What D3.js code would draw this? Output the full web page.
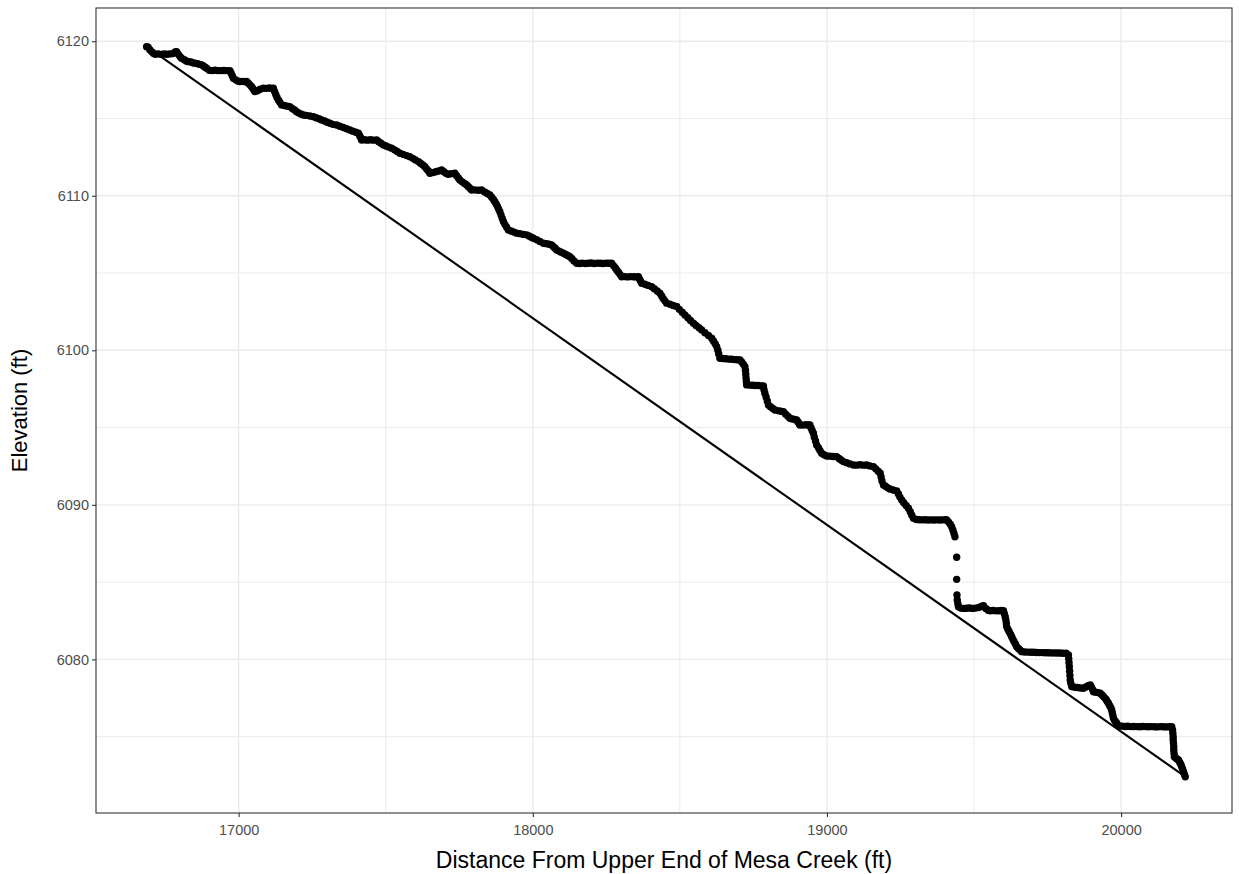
<!DOCTYPE html>
<html>
<head>
<meta charset="utf-8">
<script src="https://cdn.jsdelivr.net/npm/d3@7"></script>
<style>
  body { margin: 0; background: #ffffff; }
  svg text { font-family: "Liberation Sans", Arial, sans-serif; }
</style>
</head>
<body>
<svg id="chart" width="1239" height="874"></svg>
<script>
// Thalweg survey along Mesa Creek: [distance from upper end (ft), elevation (ft)]
const survey = [
  [16687,6119.65],[16692,6119.62],[16698,6119.45],[16704,6119.33],[16710,6119.22],[16716,6119.16],
  [16726,6119.18],[16736,6119.15],[16746,6119.17],[16756,6119.16],[16766,6119.18],[16776,6119.2],
  [16784,6119.3],[16789,6119.33],[16795,6119.15],[16801,6119.0],[16806,6118.9],[16815,6118.8],
  [16822,6118.72],[16829,6118.68],[16838,6118.66],[16845,6118.6],[16851,6118.58],[16860,6118.55],
  [16868,6118.5],[16874,6118.47],[16880,6118.4],[16886,6118.32],[16891,6118.25],[16900,6118.12],
  [16910,6118.1],[16920,6118.12],[16930,6118.1],[16940,6118.1],[16950,6118.11],[16960,6118.1],
  [16970,6118.1],[16974,6117.95],[16978,6117.78],[16982,6117.61],[16990,6117.5],[16997,6117.42],
  [17004,6117.39],[17014,6117.4],[17022,6117.38],[17027,6117.39],[17033,6117.28],[17039,6117.16],
  [17044,6117.06],[17048,6116.95],[17052,6116.84],[17055,6116.74],[17064,6116.8],[17073,6116.9],
  [17084,6116.96],[17094,6116.95],[17104,6116.97],[17112,6116.95],[17118,6116.96],[17122,6116.75],
  [17126,6116.55],[17130,6116.38],[17135,6116.2],[17140,6116.05],[17146,6115.88],[17155,6115.84],
  [17165,6115.8],[17174,6115.77],[17182,6115.65],[17190,6115.55],[17197,6115.44],[17205,6115.35],
  [17213,6115.28],[17220,6115.23],[17230,6115.2],[17242,6115.16],[17254,6115.12],[17263,6115.05],
  [17273,6114.98],[17282,6114.91],[17292,6114.84],[17301,6114.76],[17310,6114.69],[17320,6114.62],
  [17333,6114.58],[17344,6114.5],[17356,6114.42],[17367,6114.34],[17378,6114.26],[17388,6114.18],
  [17398,6114.11],[17407,6114.05],[17411,6113.9],[17415,6113.75],[17418,6113.61],[17428,6113.62],
  [17438,6113.6],[17448,6113.62],[17458,6113.6],[17469,6113.61],[17476,6113.5],[17484,6113.4],
  [17492,6113.29],[17501,6113.22],[17510,6113.15],[17520,6113.08],[17530,6112.97],[17539,6112.86],
  [17548,6112.75],[17559,6112.68],[17571,6112.6],[17582,6112.53],[17592,6112.42],[17601,6112.32],
  [17611,6112.21],[17618,6112.1],[17626,6111.99],[17633,6111.88],[17639,6111.74],[17645,6111.6],
  [17650,6111.46],[17660,6111.5],[17670,6111.55],[17680,6111.6],[17690,6111.67],[17698,6111.55],
  [17705,6111.45],[17712,6111.39],[17722,6111.42],[17735,6111.46],[17741,6111.3],[17747,6111.15],
  [17752,6111.02],[17760,6110.9],[17768,6110.8],[17775,6110.7],[17781,6110.58],[17787,6110.47],
  [17792,6110.37],[17803,6110.38],[17815,6110.36],[17826,6110.37],[17836,6110.25],[17845,6110.15],
  [17854,6110.05],[17860,6109.9],[17866,6109.76],[17871,6109.62],[17876,6109.45],[17880,6109.3],
  [17884,6109.13],[17888,6108.97],[17892,6108.75],[17896,6108.54],[17900,6108.33],[17905,6108.15],
  [17911,6107.97],[17917,6107.79],[17926,6107.72],[17936,6107.65],[17945,6107.58],[17956,6107.55],
  [17968,6107.5],[17979,6107.47],[17987,6107.4],[17995,6107.32],[18002,6107.25],[18013,6107.15],
  [18024,6107.04],[18036,6106.93],[18046,6106.9],[18055,6106.86],[18064,6106.82],[18070,6106.7],
  [18076,6106.6],[18081,6106.49],[18089,6106.42],[18096,6106.35],[18104,6106.28],[18112,6106.2],
  [18119,6106.13],[18126,6106.06],[18133,6105.92],[18140,6105.78],[18149,6105.63],[18159,6105.62],
  [18169,6105.64],[18179,6105.62],[18189,6105.63],[18199,6105.65],[18209,6105.62],[18219,6105.64],
  [18229,6105.63],[18239,6105.62],[18249,6105.64],[18259,6105.63],[18268,6105.63],[18274,6105.48],
  [18280,6105.34],[18285,6105.2],[18291,6105.05],[18297,6104.9],[18302,6104.76],[18312,6104.77],
  [18322,6104.75],[18332,6104.77],[18342,6104.76],[18351,6104.75],[18359,6104.76],[18363,6104.6],
  [18366,6104.48],[18370,6104.34],[18381,6104.27],[18392,6104.2],[18404,6104.12],[18413,6103.98],
  [18423,6103.84],[18432,6103.69],[18438,6103.52],[18443,6103.36],[18449,6103.2],[18455,6103.05],
  [18466,6102.98],[18477,6102.9],[18489,6102.83],[18498,6102.65],[18508,6102.47],[18517,6102.29],
  [18527,6102.11],[18536,6101.93],[18546,6101.75],[18555,6101.61],[18565,6101.46],[18574,6101.32],
  [18585,6101.14],[18597,6100.96],[18608,6100.78],[18614,6100.6],[18620,6100.42],[18625,6100.24],
  [18629,6100.0],[18632,6099.76],[18636,6099.49],[18646,6099.47],[18656,6099.45],[18666,6099.43],
  [18676,6099.42],[18686,6099.4],[18696,6099.39],[18704,6099.38],[18710,6099.24],[18716,6099.09],
  [18721,6098.94],[18723,6098.7],[18724,6098.45],[18725,6098.2],[18726,6097.98],[18727,6097.76],
  [18737,6097.75],[18747,6097.74],[18757,6097.72],[18767,6097.72],[18776,6097.7],[18784,6097.69],
  [18786,6097.45],[18789,6097.22],[18793,6096.98],[18797,6096.72],[18801,6096.46],[18808,6096.35],
  [18816,6096.24],[18823,6096.14],[18833,6096.1],[18843,6096.06],[18852,6096.03],[18859,6095.88],
  [18867,6095.74],[18874,6095.6],[18882,6095.56],[18890,6095.52],[18897,6095.49],[18901,6095.38],
  [18905,6095.27],[18908,6095.17],[18918,6095.16],[18928,6095.18],[18936,6095.17],[18942,6095.17],
  [18946,6094.98],[18950,6094.8],[18954,6094.63],[18957,6094.38],[18961,6094.13],[18965,6093.88],
  [18971,6093.7],[18976,6093.52],[18982,6093.34],[18990,6093.24],[18999,6093.16],[19010,6093.15],
  [19021,6093.13],[19033,6093.12],[19041,6093.0],[19048,6092.9],[19056,6092.8],[19067,6092.72],
  [19078,6092.65],[19090,6092.58],[19101,6092.57],[19112,6092.59],[19124,6092.57],[19135,6092.58],
  [19146,6092.52],[19158,6092.47],[19166,6092.33],[19174,6092.18],[19181,6092.04],[19184,6091.8],
  [19187,6091.55],[19192,6091.29],[19199,6091.2],[19207,6091.1],[19214,6091.03],[19225,6090.96],
  [19237,6090.9],[19243,6090.7],[19248,6090.5],[19254,6090.32],[19261,6090.14],[19269,6089.96],
  [19277,6089.78],[19283,6089.56],[19288,6089.35],[19294,6089.13],[19304,6089.05],[19314,6089.04],
  [19324,6089.03],[19334,6089.04],[19344,6089.02],[19354,6089.03],[19364,6089.02],[19374,6089.03],
  [19384,6089.02],[19394,6089.03],[19403,6089.04],[19407,6089.02],[19413,6088.9],[19419,6088.75],
  [19424,6088.59],[19428,6088.37],[19432,6088.15],[19435,6087.94],[19441,6086.61],[19441,6085.18],
  [19442,6084.17],[19443,6083.85],[19445,6083.6],[19447,6083.41],[19455,6083.32],[19465,6083.3],
  [19475,6083.31],[19485,6083.33],[19495,6083.3],[19505,6083.32],[19515,6083.35],[19524,6083.42],
  [19532,6083.48],[19540,6083.3],[19548,6083.18],[19555,6083.15],[19565,6083.16],[19575,6083.14],
  [19585,6083.15],[19594,6083.16],[19600,6083.15],[19603,6082.95],[19606,6082.76],[19608,6082.55],
  [19610,6082.33],[19611,6082.12],[19615,6081.95],[19619,6081.8],[19624,6081.63],[19628,6081.47],
  [19632,6081.31],[19636,6081.15],[19641,6080.98],[19645,6080.82],[19651,6080.7],[19657,6080.6],
  [19662,6080.5],[19672,6080.48],[19682,6080.47],[19692,6080.46],[19702,6080.46],[19712,6080.45],
  [19722,6080.44],[19732,6080.44],[19742,6080.43],[19752,6080.43],[19762,6080.42],[19772,6080.42],
  [19782,6080.41],[19792,6080.41],[19802,6080.4],[19813,6080.4],[19821,6080.29],[19822,6080.04],
  [19823,6079.78],[19824,6079.53],[19825,6079.24],[19826,6078.95],[19827,6078.67],[19829,6078.45],
  [19832,6078.24],[19842,6078.2],[19852,6078.18],[19862,6078.15],[19872,6078.13],[19880,6078.22],
  [19888,6078.3],[19895,6078.34],[19899,6078.2],[19903,6078.05],[19906,6077.91],[19914,6077.88],
  [19921,6077.85],[19929,6077.81],[19935,6077.7],[19940,6077.6],[19946,6077.48],[19950,6077.37],
  [19953,6077.27],[19957,6077.16],[19961,6077.0],[19965,6076.87],[19968,6076.73],[19970,6076.55],
  [19972,6076.37],[19974,6076.19],[19978,6076.05],[19982,6075.95],[19985,6075.87],[19993,6075.7],
  [20003,6075.68],[20013,6075.66],[20023,6075.67],[20033,6075.65],[20043,6075.66],[20053,6075.65],
  [20063,6075.64],[20073,6075.66],[20083,6075.65],[20093,6075.64],[20103,6075.65],[20113,6075.64],
  [20123,6075.63],[20133,6075.65],[20143,6075.64],[20153,6075.63],[20163,6075.64],[20172,6075.65],
  [20175,6075.43],[20176,6075.2],[20177,6074.98],[20177,6074.78],[20178,6074.57],[20179,6074.35],
  [20179,6074.14],[20180,6073.92],[20181,6073.7],[20186,6073.62],[20190,6073.56],[20195,6073.49],
  [20199,6073.35],[20203,6073.2],[20206,6073.06],[20209,6072.9],[20212,6072.73],[20215,6072.57],
  [20218,6072.41]
];

// Axis breaks
const xMajorTicks = [17000, 18000, 19000, 20000];
const xMinorTicks = [17500, 18500, 19500];
const yMajorTicks = [6080, 6090, 6100, 6110, 6120];
const yMinorTicks = [6075, 6085, 6095, 6105, 6115];

const xTitle = "Distance From Upper End of Mesa Creek (ft)";
const yTitle = "Elevation (ft)";

// Layout
const width = 1239, height = 874;
const margin = { top: 8, right: 7, bottom: 61, left: 96 };
const pw = width - margin.left - margin.right;
const ph = height - margin.top - margin.bottom;

// Plotted ranges (data extent plus a small margin on each side)
const xDomain = [16515, 20377];
const yDomain = [6070.06, 6122.15];

const x = d3.scaleLinear().domain(xDomain).range([0, pw]);
const y = d3.scaleLinear().domain(yDomain).range([ph, 0]);

const svg = d3.select("#chart");
svg.append("rect").attr("width", width).attr("height", height).attr("fill", "#ffffff");

const panel = svg.append("g").attr("transform", `translate(${margin.left},${margin.top})`);

// Grid
const grid = panel.append("g");
grid.selectAll(".xminor").data(xMinorTicks).join("line")
  .attr("x1", d => x(d)).attr("x2", d => x(d))
  .attr("y1", 0).attr("y2", ph)
  .attr("stroke", "#ebebeb").attr("stroke-width", 1);
grid.selectAll(".yminor").data(yMinorTicks).join("line")
  .attr("x1", 0).attr("x2", pw)
  .attr("y1", d => y(d)).attr("y2", d => y(d))
  .attr("stroke", "#ebebeb").attr("stroke-width", 1);
grid.selectAll(".xmajor").data(xMajorTicks).join("line")
  .attr("x1", d => x(d)).attr("x2", d => x(d))
  .attr("y1", 0).attr("y2", ph)
  .attr("stroke", "#ebebeb").attr("stroke-width", 1.4);
grid.selectAll(".ymajor").data(yMajorTicks).join("line")
  .attr("x1", 0).attr("x2", pw)
  .attr("y1", d => y(d)).attr("y2", d => y(d))
  .attr("stroke", "#ebebeb").attr("stroke-width", 1.4);

// Surveyed bed points
panel.append("g").selectAll("circle").data(survey).join("circle")
  .attr("cx", d => x(d[0]))
  .attr("cy", d => y(d[1]))
  .attr("r", 3.7)
  .attr("fill", "#000000");

// Average grade: straight line from the first to the last survey point
const ends = [survey[0], survey[survey.length - 1]];
panel.append("path")
  .datum(ends)
  .attr("d", d3.line().x(d => x(d[0])).y(d => y(d[1])))
  .attr("fill", "none")
  .attr("stroke", "#000000")
  .attr("stroke-width", 2.1);

// Panel border
panel.append("rect")
  .attr("x", 0).attr("y", 0).attr("width", pw).attr("height", ph)
  .attr("fill", "none").attr("stroke", "#333333").attr("stroke-width", 1.1);

// Axes
const xAxis = panel.append("g").attr("transform", `translate(0,${ph})`)
  .call(d3.axisBottom(x).tickValues(xMajorTicks).tickFormat(d3.format("d")).tickSize(4).tickPadding(8));
const yAxis = panel.append("g")
  .call(d3.axisLeft(y).tickValues(yMajorTicks).tickFormat(d3.format("d")).tickSize(4).tickPadding(3));
[xAxis, yAxis].forEach(a => {
  a.select(".domain").remove();
  a.selectAll(".tick line").attr("stroke", "#333333").attr("stroke-width", 1.1);
  a.selectAll(".tick text")
    .attr("fill", "#4d4d4d")
    .style("font-size", "14.5px")
    .style("font-family", "'Liberation Sans', Arial, sans-serif");
});

// Axis titles
svg.append("text")
  .attr("x", margin.left + pw / 2)
  .attr("y", 868)
  .attr("text-anchor", "middle")
  .attr("fill", "#000000")
  .style("font-size", "23px")
  .text(xTitle);
svg.append("text")
  .attr("transform", `translate(27,${margin.top + ph / 2}) rotate(-90)`)
  .attr("text-anchor", "middle")
  .attr("fill", "#000000")
  .style("font-size", "22px")
  .text(yTitle);
</script>
</body>
</html>
